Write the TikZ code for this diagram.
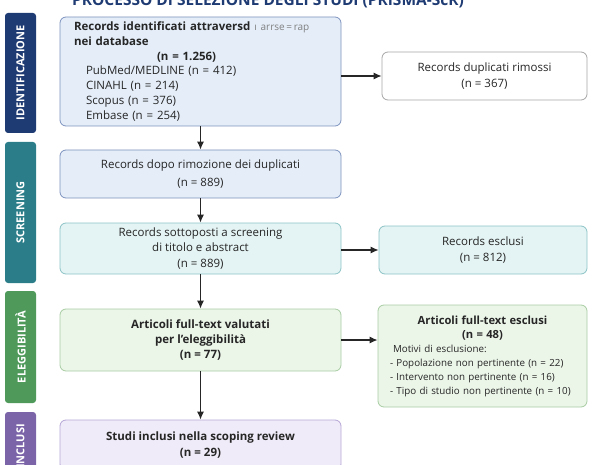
\documentclass[tikz,border=0pt]{standalone}
\usepackage{fontspec}
\setmainfont{Open Sans}
\usepackage{xcolor}
\usepackage{tikz}
\usetikzlibrary{arrows.meta}

\definecolor{navy}{HTML}{1F3B73}
\definecolor{teal}{HTML}{2B7E89}
\definecolor{leaf}{HTML}{4F9A5B}
\definecolor{plum}{HTML}{7B64A8}
\definecolor{blueline}{HTML}{7D93BE}
\definecolor{bluefill}{HTML}{E4EDF8}
\definecolor{tealline}{HTML}{8CC3C6}
\definecolor{tealfill}{HTML}{E4F3F3}
\definecolor{leafline}{HTML}{A8CDA3}
\definecolor{leaffill}{HTML}{EBF5E8}
\definecolor{plumline}{HTML}{B5A6D6}
\definecolor{plumfill}{HTML}{F0EBF8}
\definecolor{greyline}{HTML}{A6A6A6}

\begin{document}
\begin{tikzpicture}[x=1pt,y=-1pt,
        phase/.style = {rounded corners=3pt, text=white, rotate=90, inner sep=0pt,
                        minimum height=31pt, font=\bfseries\fontsize{11}{12}\selectfont},
        box/.style = {draw, rounded corners=6pt, line width=0.8pt, text=black!85,
                      align=center, minimum width=281pt, font=\fontsize{11.5}{15.5}\selectfont},
        side/.style = {box, minimum width=205pt},
        every edge/.style = {draw, line width=1.2pt, black!85, -{Latex[length=8pt,width=7pt]}}
        ]
    \useasboundingbox (0,0) rectangle (599,465);

    % title, cut at the top
    \node[anchor=base, text=navy, font=\bfseries\fontsize{15.5}{15.5}\selectfont] (title) at (268,6)
        {PROCESSO DI SELEZIONE DEGLI STUDI (PRISMA-ScR)};

    % phases
    \node[phase, fill=navy, minimum width=120pt] (pident) at (20.5,73) {IDENTIFICAZIONE};
    \node[phase, fill=teal, minimum width=141pt] (pscreen) at (20.5,212.5) {SCREENING};
    \node[phase, fill=leaf, minimum width=112pt] (pelig) at (20.5,347) {ELEGGIBILIT\`A};
    \node[phase, fill=plum, minimum width=68pt] (pincl) at (20.5,446) {INCLUSI};

    % main column
    \node[box, draw=blueline, fill=bluefill, minimum height=109pt, align=left,
          text width=253pt, inner xsep=14pt, font=\fontsize{11.5}{14.8}\selectfont] (ident) at (200.5,71.5)
        {\textbf{Records identificati attraversd}{\color{black!50}\fontsize{10}{10}\selectfont\ ı arrse\,=\,rap}\\
         \textbf{nei database}\\
         \hspace*{83pt}\textbf{(n = 1.256)}\\
         \hspace*{12pt}PubMed/MEDLINE (n = 412)\\
         \hspace*{12pt}CINAHL (n = 214)\\
         \hspace*{12pt}Scopus (n = 376)\\
         \hspace*{12pt}Embase (n = 254)};
    \node[box, draw=blueline, fill=bluefill, minimum height=48pt] (dedup) at (200.5,174)
        {Records dopo rimozione dei duplicati\\[2.5pt] (n = 889)};
    \node[box, draw=tealline, fill=tealfill, minimum height=51pt] (screen) at (200.5,248.5)
        {Records sottoposti a screening\\ di titolo e abstract\\ (n = 889)};
    \node[box, draw=leafline, fill=leaffill, minimum height=62pt, font=\bfseries\fontsize{11.5}{15}\selectfont] (fulltext) at (200.5,340)
        {Articoli full-text valutati\\ per l'eleggibilità\\ (n = 77)};
    \node[box, draw=plumline, fill=plumfill, minimum height=50pt, font=\bfseries\fontsize{11.5}{16}\selectfont] (incl) at (200.5,445)
        {Studi inclusi nella scoping review\\ (n = 29)};

    % exclusions
    \node[side, draw=greyline, fill=white, minimum height=48pt] (dupl) at (484.5,76)
        {Records duplicati rimossi\\ (n = 367)};
    \node[side, draw=tealline, fill=tealfill, minimum width=208pt, minimum height=48pt] (excl) at (483,250)
        {Records esclusi\\ (n = 812)};
    \node[side, draw=leafline, fill=leaffill, minimum width=209pt, minimum height=102pt,
          align=left, text width=191pt, inner xsep=9pt, font=\fontsize{9.8}{14}\selectfont] (ftexcl) at (482.5,356)
        {\makebox[\linewidth]{\fontsize{11.2}{14}\selectfont\bfseries Articoli full-text esclusi}\\
         \makebox[\linewidth]{\fontsize{11.2}{14}\selectfont\bfseries (n = 48)}\\
         \hspace*{6pt}Motivi di esclusione:\\
         \hspace*{3pt}- Popolazione non pertinente (n = 22)\\
         \hspace*{3pt}- Intervento non pertinente (n = 16)\\
         \hspace*{3pt}- Tipo di studio non pertinente (n = 10)};

    \draw   (ident) edge (dedup)
            (dedup) edge (screen)
            (screen) edge (fulltext)
            (fulltext) edge (incl)
            (ident.east |- dupl.west) edge (dupl.west)
            (screen.east |- excl.west) edge (excl.west)
            (fulltext.east) edge (fulltext.east -| ftexcl.west);
\end{tikzpicture}
\end{document}
